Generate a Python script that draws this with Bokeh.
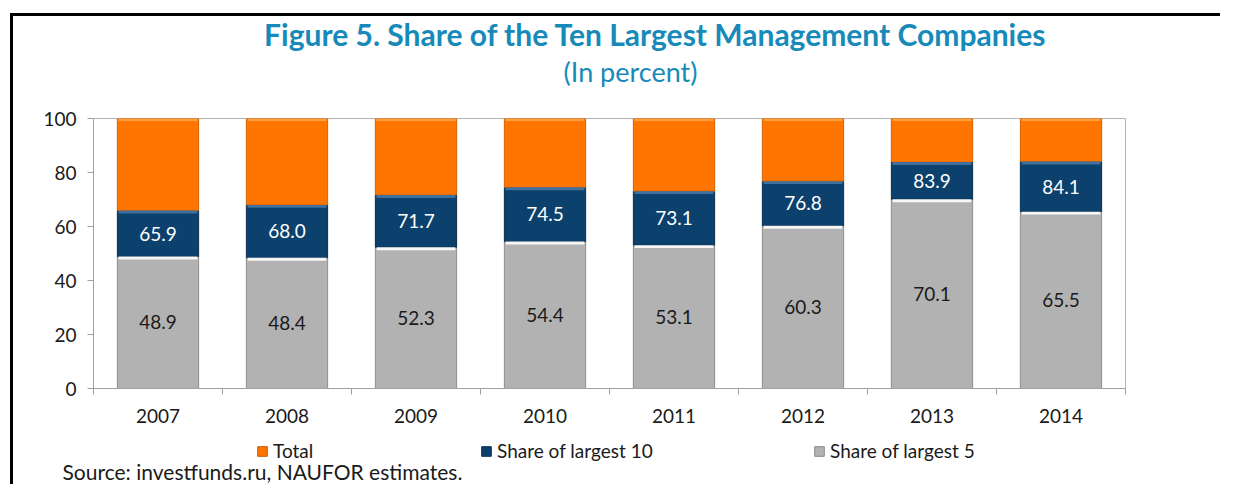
from bokeh.plotting import figure
from bokeh.layouts import column
from bokeh.models import (Range1d, FixedTicker, Label, Legend, LegendItem,
                          ColumnDataSource)
from bokeh.core.properties import value
from bokeh.embed import file_html
from bokeh.resources import INLINE

# ---- data ----
years = ["2007", "2008", "2009", "2010", "2011", "2012", "2013", "2014"]
largest5 = [48.9, 48.4, 52.3, 54.4, 53.1, 60.3, 70.1, 65.5]
largest10 = [65.9, 68.0, 71.7, 74.5, 73.1, 76.8, 83.9, 84.1]
total = [100, 100, 100, 100, 100, 100, 100, 100]
y_ticks = [0, 20, 40, 60, 80, 100]

title_text = "Figure 5. Share of the Ten Largest Management Companies"
subtitle_text = "(In percent)"
source_text = "Source: investfunds.ru, NAUFOR estimates."
legend_labels = ["Total", "Share of largest 10", "Share of largest 5"]

# ---- style ----
ORANGE = "#FF7500"
NAVY = "#0C416D"
GRAY = "#B2B2B2"
TEAL = "#178AB9"
TXT = "#1a1a1a"
FONT = "Lato"
BW = 0.63
HL = 1.1  # highlight strip thickness (data units)
W = 1207

# ---------------- title strip ----------------
p0 = figure(width=W, height=84, output_backend="svg", toolbar_location=None,
            x_axis_type=None, y_axis_type=None, min_border=0,
            x_range=Range1d(0, 1), y_range=Range1d(0, 1))
p0.outline_line_color = None
p0.frame_align = False
p0.add_layout(Label(x=642, y=67, x_units="screen", y_units="screen", text=title_text,
                    text_align="center", text_baseline="middle", text_font=FONT,
                    text_font_style="bold", text_font_size="30px", text_color=TEAL))
p0.add_layout(Label(x=617, y=29, x_units="screen", y_units="screen", text=subtitle_text,
                    text_align="center", text_baseline="middle", text_font=FONT,
                    text_font_size="27px", text_color=TEAL))

# ---------------- chart ----------------
x = list(range(len(years)))
src = ColumnDataSource(dict(
    x=x,
    s5=largest5,
    s10=largest10,
    total=total,
    s5_hl=[v - HL for v in largest5],
    s10_hl=[v - HL for v in largest10],
    tot_hl=[v - HL * 0.8 for v in total],
    y5=[v / 2 for v in largest5],
    y10=[(a + b) / 2 for a, b in zip(largest5, largest10)],
    t5=[f"{v:.1f}" for v in largest5],
    t10=[f"{v:.1f}" for v in largest10],
))

p = figure(width=W, height=332, output_backend="svg", toolbar_location=None,
           x_range=Range1d(-0.5, len(years) - 0.5), y_range=Range1d(0, 100),
           min_border_left=80, min_border_right=95, min_border_top=18,
           min_border_bottom=44)
p.outline_line_color = "#b4b4b4"
p.frame_align = False

p.vbar(x="x", bottom=0, top="s5", width=BW, source=src,
       fill_color=GRAY, line_color="#8e8e8e", line_width=1)
p.vbar(x="x", bottom="s5", top="s10", width=BW, source=src,
       fill_color=NAVY, line_color="#082f50", line_width=1)
p.vbar(x="x", bottom="s10", top="total", width=BW, source=src,
       fill_color=ORANGE, line_color="#d86200", line_width=1)

# bevel highlights at segment tops
p.vbar(x="x", bottom="s5_hl", top="s5", width=BW * 0.97, source=src,
       fill_color="#f6f6f6", line_alpha=0)
p.vbar(x="x", bottom="s10_hl", top="s10", width=BW * 0.97, source=src,
       fill_color="#41709c", line_alpha=0)
p.vbar(x="x", bottom="tot_hl", top="total", width=BW * 0.97, source=src,
       fill_color="#FFA040", line_alpha=0)

p.text(x="x", y="y5", text="t5", source=src, text_align="center",
       text_baseline="middle", text_font=value(FONT), text_font_size="19px",
       text_color=TXT)
p.text(x="x", y="y10", text="t10", source=src, text_align="center",
       text_baseline="middle", text_font=value(FONT), text_font_size="19px",
       text_color="white")

p.xgrid.visible = False
p.ygrid.visible = False

p.xaxis.ticker = FixedTicker(ticks=x, minor_ticks=[i - 0.5 for i in range(len(years) + 1)])
p.xaxis.major_label_overrides = {i: yr for i, yr in enumerate(years)}
p.xaxis.major_tick_out = 0
p.xaxis.major_tick_in = 0
p.xaxis.minor_tick_out = 6
p.xaxis.minor_tick_in = 0
p.xaxis.minor_tick_line_color = "#a0a0a0"
p.xaxis.axis_line_color = "#a0a0a0"
p.xaxis.major_label_standoff = 14
p.xaxis.major_label_text_font = FONT
p.xaxis.major_label_text_font_size = "19px"
p.xaxis.major_label_text_color = TXT

p.yaxis.ticker = FixedTicker(ticks=y_ticks)
p.yaxis.major_tick_out = 6
p.yaxis.major_tick_in = 0
p.yaxis.minor_tick_out = 0
p.yaxis.minor_tick_in = 0
p.yaxis.major_tick_line_color = "#a0a0a0"
p.yaxis.axis_line_color = "#a0a0a0"
p.yaxis.major_label_standoff = 11
p.yaxis.major_label_text_font = FONT
p.yaxis.major_label_text_font_size = "19px"
p.yaxis.major_label_text_color = TXT

# ---------------- legend + source strip ----------------
p2 = figure(width=W, height=52, output_backend="svg", toolbar_location=None,
            x_axis_type=None, y_axis_type=None, min_border=0,
            x_range=Range1d(0, 1), y_range=Range1d(0, 1))
p2.outline_line_color = None
p2.frame_align = False
colors = [ORANGE, NAVY, GRAY]
edges = ["#c85a00", "#082f50", "#8a8a8a"]
leg_x = [243, 467, 800]
for lab, c, e, lx in zip(legend_labels, colors, edges, leg_x):
    # off-range placeholder renderer: only used to style the legend swatch
    r = p2.vbar(x=[-5], top=[-5], width=0.1, fill_color=c, line_color=e)
    lg = Legend(items=[LegendItem(label=lab, renderers=[r])], location=(lx, 22),
                orientation="horizontal", padding=0, margin=0,
                border_line_alpha=0, background_fill_alpha=0,
                glyph_width=12, glyph_height=12, label_standoff=5,
                label_text_font=FONT, label_text_font_size="19px",
                label_text_color=TXT, label_height=12)
    p2.add_layout(lg, "center")
p2.add_layout(Label(x=49, y=13, x_units="screen", y_units="screen", text=source_text,
                    text_align="left", text_baseline="middle", text_font=FONT,
                    text_font_size="21px", text_color=TXT))

layout = column(p0, p, p2, spacing=0, margin=(13, 0, 0, 10),
                styles={"border-top": "3px solid black",
                        "border-left": "3px solid black"})

open("out.html", "w").write(file_html(layout, INLINE))
